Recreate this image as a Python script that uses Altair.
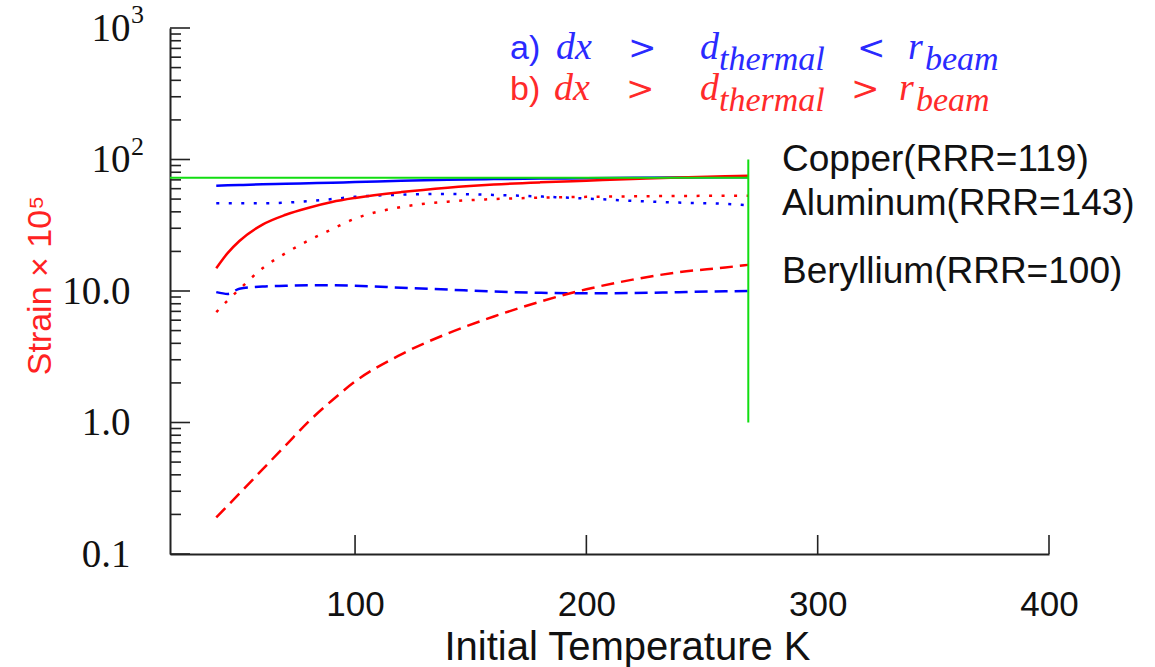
import altair as alt
import pandas as pd

# ---- data ----
temps = [40, 45, 50, 60, 70, 80, 90, 100, 120, 140, 160, 180, 200, 220, 240, 260, 270]
cu_a = [63.2, 63.6, 64.0, 64.7, 65.3, 65.9, 66.6, 67.3, 68.8, 70.2, 71.0, 71.6, 72.0, 72.5, 72.9, 73.2, 73.3]
cu_b = [14.9, 19.5, 24.0, 32.0, 38.0, 43.0, 47.5, 51.0, 56.5, 61.0, 64.5, 67.0, 69.0, 71.0, 73.0, 74.5, 75.3]
al_a = [46.4, 46.4, 46.4, 46.4, 47.0, 48.2, 50.0, 52.0, 54.0, 54.7, 53.8, 52.3, 50.5, 48.5, 47.0, 46.0, 44.8]
al_b = [6.9, 8.5, 10.3, 14.9, 19.4, 24.3, 29.5, 35.5, 43.5, 47.8, 50.0, 51.2, 52.0, 52.5, 52.8, 53.0, 53.1]
be_a = [9.8, 9.5, 10.4, 10.8, 10.95, 11.05, 11.05, 10.95, 10.6, 10.25, 9.9, 9.7, 9.6, 9.65, 9.8, 9.95, 10.0]
be_b = [0.19, 0.234, 0.288, 0.44, 0.67, 1.02, 1.47, 2.05, 3.3, 4.75, 6.4, 8.3, 10.3, 12.2, 13.9, 15.1, 15.8]

green_level = 72.7          # horizontal reference line
green_x = [20, 270]
green_vx = 270              # vertical reference line
green_vy = [1, 100]

materials = ["Copper(RRR=119)", "Aluminum(RRR=143)", "Beryllium(RRR=100)"]

x_major = [100, 200, 300, 400]
y_major = [0.1, 1, 10, 100, 1000]
y_minor = [m * d for d in [0.1, 1, 10, 100] for m in range(2, 10)]
y_pow_vals = [100, 1000]
y_pow_exps = ["2", "3"]

W, H = 879, 526
BLUE, RED, GREEN = "#0000ff", "#ff0000", "#11dd11"

xs = alt.Scale(domain=[20, 400], nice=False, zero=False)
ys = alt.Scale(type="log", domain=[0.1, 1000], nice=False)


def series(vals, color, dash=None):
    df = pd.DataFrame({"T": temps, "S": vals})
    kw = dict(color=color, strokeWidth=2.5, interpolate="monotone", clip=True)
    if dash:
        kw["strokeDash"] = dash
        kw["strokeCap"] = "butt"
    return alt.Chart(df).mark_line(**kw).encode(
        x=alt.X("T:Q", scale=xs),
        y=alt.Y("S:Q", scale=ys),
    )


# base chart carrying the axes
axes_df = pd.DataFrame({"T": [20], "S": [0.1]})
base = alt.Chart(axes_df).mark_point(opacity=0).encode(
    x=alt.X("T:Q", scale=xs, axis=alt.Axis(
        values=x_major, ticks=False, grid=False, domainColor="#222", domainWidth=2,
        labelFont="Liberation Sans", labelFontSize=35, labelColor="#111",
        labelPadding=33, labelFlush=False,
        title="Initial Temperature K", titleFont="Liberation Sans", titleFontSize=40,
        titleFontWeight="normal", titleColor="#111", titleX=457, titleY=93,
        titleBaseline="middle", titleAlign="center")),
    y=alt.Y("S:Q", scale=ys, axis=alt.Axis(
        values=y_major, ticks=False, grid=False, domainColor="#222", domainWidth=2,
        labelExpr="datum.value >= 100 ? '10' : format(datum.value, '.1f')",
        labelFont="Liberation Serif", labelFontSize=39, labelColor="#111",
        labelPadding=40, labelFlush=False,
        title="Strain × 10⁵", titleFont="Liberation Sans", titleFontSize=34,
        titleFontWeight="normal", titleColor="#ff2222", titleX=-130, titleY=257,
        titleAngle=-90, titleBaseline="middle", titleAlign="center")),
)

# exponents of the 10^n tick labels
pows = alt.Chart(pd.DataFrame({"S": y_pow_vals, "e": y_pow_exps})).mark_text(
    align="left", baseline="middle", font="Liberation Serif", fontSize=26, color="#111",
    dy=-13, clip=False).encode(
    y=alt.Y("S:Q", scale=ys), x=alt.value(-39), text="e:N")

# inward ticks
ymaj = alt.Chart(pd.DataFrame({"S": y_major})).mark_rule(color="#222", strokeWidth=1.6).encode(
    y=alt.Y("S:Q", scale=ys), x=alt.value(0), x2=alt.value(20))
ymin = alt.Chart(pd.DataFrame({"S": y_minor})).mark_rule(color="#222", strokeWidth=1.6).encode(
    y=alt.Y("S:Q", scale=ys), x=alt.value(0), x2=alt.value(11))
xmaj = alt.Chart(pd.DataFrame({"T": x_major})).mark_rule(color="#222", strokeWidth=1.6).encode(
    x=alt.X("T:Q", scale=xs), y=alt.value(H), y2=alt.value(H - 19))

# green reference lines
gh = alt.Chart(pd.DataFrame({"T": [green_x[0]], "T2": [green_x[1]], "S": [green_level]})).mark_rule(
    color=GREEN, strokeWidth=2).encode(
    x=alt.X("T:Q", scale=xs), x2="T2:Q", y=alt.Y("S:Q", scale=ys))
gv = alt.Chart(pd.DataFrame({"T": [green_vx], "S": [green_vy[0]], "S2": [green_vy[1]]})).mark_rule(
    color=GREEN, strokeWidth=2).encode(
    x=alt.X("T:Q", scale=xs), y=alt.Y("S:Q", scale=ys), y2="S2:Q")


def label(text, px, py, size, color, font, style="normal", baseline="alphabetic"):
    return alt.Chart(alt.Data(values=[{"t": text}])).mark_text(
        align="left", baseline=baseline, fontSize=size, color=color, font=font,
        fontStyle=style, clip=False).encode(
        x=alt.value(px), y=alt.value(py), text=alt.Text("t:N"))


OX, OY = 170, 28
annot = []
for (pre, rel, col, base_y, xs_list) in [
    ("a)", "<", "#2a2aff", 59, [510, 556, 628, 700, 719, 857, 908, 925]),
    ("b)", ">", "#ff2a2a", 100, [510, 554, 626, 700, 719, 851, 899, 916]),
]:
    sub_y = base_y + 11
    annot += [
        label(pre, xs_list[0] - OX, base_y - OY, 34, col, "Liberation Sans"),
        label("dx", xs_list[1] - OX, base_y - OY, 38, col, "Liberation Serif", "italic"),
        label(">", xs_list[2] - OX, base_y - OY, 34, col, "DejaVu Serif"),
        label("d", xs_list[3] - OX, base_y - OY, 38, col, "Liberation Serif", "italic"),
        label("thermal", xs_list[4] - OX, sub_y - OY, 34, col, "Liberation Serif", "italic"),
        label(rel, xs_list[5] - OX, base_y - OY, 34, col, "DejaVu Serif"),
        label("r", xs_list[6] - OX, base_y - OY, 38, col, "Liberation Serif", "italic"),
        label("beam", xs_list[7] - OX, sub_y - OY, 34, col, "Liberation Serif", "italic"),
    ]

mat_labels = [
    label(materials[0], 782 - OX, 160 - OY, 37, "#111", "Liberation Sans", baseline="middle"),
    label(materials[1], 782 - OX, 204 - OY, 37, "#111", "Liberation Sans", baseline="middle"),
    label(materials[2], 782 - OX, 272 - OY, 37, "#111", "Liberation Sans", baseline="middle"),
]

lines = [
    series(cu_a, BLUE),
    series(al_a, BLUE, [3, 9.5]),
    series(be_a, BLUE, [13, 7]),
    series(cu_b, RED),
    series(al_b, RED, [3, 9.5]),
    series(be_b, RED, [13, 7]),
]

chart = alt.layer(base, ymaj, ymin, xmaj, pows, *lines, gh, gv, *annot, *mat_labels).properties(
    width=W, height=H,
    padding={"left": 170, "top": 28, "right": 106, "bottom": 113},
    autosize=alt.AutoSizeParams(type="none"),
    background="white",
).configure_view(stroke=None)

chart.save("out.html", embed_options={"renderer": "svg", "actions": False})
